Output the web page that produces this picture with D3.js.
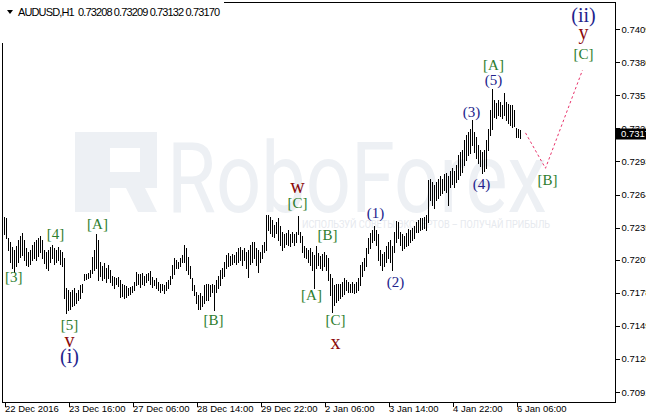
<!DOCTYPE html>
<html><head><meta charset="utf-8">
<script src="https://cdn.jsdelivr.net/npm/d3@7/dist/d3.min.js"></script>
<style>html,body{margin:0;padding:0;background:#fff;overflow:hidden}svg{display:block}</style>
</head><body><svg id="c" width="646" height="414"></svg>
<script>
const highs=[0.7244,0.7243,0.7226,0.7222,0.7218,0.7215,0.7219,0.7224,0.7228,0.7230,
0.7224,0.7217,0.7214,0.7215,0.7220,0.7222,0.7224,0.7226,0.7228,0.7224,
0.7215,0.7214,0.7215,0.7218,0.7220,0.7217,0.7215,0.7218,0.7215,0.7214,
0.7208,0.7182,0.7180,0.7179,0.7180,0.7182,0.7178,0.7180,0.7185,0.7186,
0.7194,0.7194,0.7195,0.7198,0.7209,0.7215,0.7229,0.7224,0.7205,0.7201,
0.7204,0.7200,0.7202,0.7198,0.7193,0.7192,0.7191,0.7192,0.7189,0.7186,
0.7185,0.7184,0.7182,0.7183,0.7184,0.7187,0.7196,0.7194,0.7194,0.7195,
0.7193,0.7194,0.7195,0.7197,0.7192,0.7189,0.7191,0.7187,0.7186,0.7186,
0.7185,0.7187,0.7189,0.7193,0.7202,0.7208,0.7207,0.7205,0.7208,0.7211,
0.7220,0.7217,0.7209,0.7201,0.7191,0.7185,0.7179,0.7176,0.7178,0.7175,
0.7185,0.7186,0.7186,0.7185,0.7186,0.7185,0.7189,0.7193,0.7198,0.7200,
0.7205,0.7211,0.7213,0.7210,0.7212,0.7211,0.7214,0.7217,0.7218,0.7215,
0.7217,0.7214,0.7215,0.7220,0.7222,0.7222,0.7217,0.7215,0.7214,0.7220,
0.7222,0.7246,0.7246,0.7244,0.7242,0.7237,0.7240,0.7243,0.7236,0.7231,
0.7229,0.7230,0.7233,0.7229,0.7231,0.7229,0.7231,0.7245,0.7231,0.7228,
0.7219,0.7217,0.7215,0.7217,0.7214,0.7211,0.7219,0.7213,0.7210,0.7212,
0.7214,0.7211,0.7208,0.7194,0.7191,0.7185,0.7186,0.7186,0.7186,0.7187,
0.7191,0.7189,0.7187,0.7186,0.7187,0.7186,0.7187,0.7191,0.7202,0.7205,
0.7208,0.7217,0.7226,0.7230,0.7233,0.7236,0.7233,0.7229,0.7215,0.7212,
0.7214,0.7219,0.7222,0.7224,0.7219,0.7231,0.7241,0.7240,0.7231,0.7229,
0.7228,0.7230,0.7234,0.7233,0.7235,0.7236,0.7240,0.7242,0.7243,0.7243,
0.7244,0.7246,0.7277,0.7278,0.7275,0.7272,0.7275,0.7278,0.7280,0.7278,
0.7282,0.7283,0.7280,0.7285,0.7287,0.7285,0.7290,0.7299,0.7301,0.7303,
0.7312,0.7316,0.7319,0.7321,0.7329,0.7319,0.7314,0.7307,0.7303,0.7301,
0.7303,0.7312,0.7321,0.7338,0.7356,0.7347,0.7344,0.7347,0.7345,0.7342,
0.7353,0.7345,0.7343,0.7342,0.7342,0.7338,0.7322,0.7321,0.73209];
const lows=[0.7229,0.7226,0.7215,0.7205,0.7200,0.7196,0.7201,0.7205,0.7209,0.7211,
0.7207,0.7202,0.7201,0.7203,0.7207,0.7208,0.7207,0.7210,0.7214,0.7208,
0.7204,0.7200,0.7198,0.7205,0.7208,0.7203,0.7205,0.7207,0.7203,0.7201,
0.7173,0.7160,0.7163,0.7164,0.7166,0.7167,0.7169,0.7172,0.7173,0.7179,
0.7189,0.7190,0.7191,0.7192,0.7195,0.7198,0.7200,0.7189,0.7193,0.7189,
0.7191,0.7187,0.7191,0.7187,0.7185,0.7182,0.7186,0.7184,0.7174,0.7175,
0.7173,0.7174,0.7176,0.7177,0.7179,0.7180,0.7185,0.7186,0.7183,0.7186,
0.7185,0.7187,0.7189,0.7186,0.7183,0.7185,0.7182,0.7180,0.7179,0.7180,
0.7178,0.7180,0.7182,0.7186,0.7191,0.7194,0.7200,0.7200,0.7201,0.7205,
0.7205,0.7198,0.7194,0.7191,0.7180,0.7176,0.7169,0.7164,0.7164,0.7166,
0.7169,0.7172,0.7172,0.7175,0.7179,0.7163,0.7179,0.7182,0.7185,0.7191,
0.7193,0.7200,0.7201,0.7202,0.7203,0.7205,0.7203,0.7205,0.7207,0.7202,
0.7207,0.7200,0.7192,0.7203,0.7205,0.7208,0.7202,0.7196,0.7205,0.7208,
0.7214,0.7215,0.7233,0.7230,0.7228,0.7227,0.7230,0.7224,0.7220,0.7215,
0.7218,0.7221,0.7220,0.7219,0.7222,0.7220,0.7222,0.7229,0.7222,0.7214,
0.7209,0.7208,0.7205,0.7202,0.7198,0.7182,0.7200,0.7202,0.7200,0.7198,
0.7201,0.7198,0.7189,0.7176,0.7161,0.7167,0.7170,0.7172,0.7173,0.7175,
0.7177,0.7180,0.7179,0.7179,0.7179,0.7178,0.7179,0.7180,0.7185,0.7193,
0.7198,0.7201,0.7213,0.7217,0.7222,0.7224,0.7220,0.7207,0.7202,0.7198,
0.7201,0.7205,0.7208,0.7205,0.7198,0.7214,0.7222,0.7226,0.7220,0.7215,
0.7217,0.7219,0.7220,0.7222,0.7224,0.7226,0.7231,0.7231,0.7233,0.7234,
0.7235,0.7233,0.7240,0.7259,0.7255,0.7252,0.7259,0.7261,0.7264,0.7265,
0.7268,0.7266,0.7255,0.7271,0.7273,0.7271,0.7275,0.7278,0.7281,0.7284,
0.7290,0.7294,0.7299,0.7300,0.7307,0.7301,0.7296,0.7292,0.7289,0.7283,
0.7285,0.7287,0.7303,0.7316,0.7321,0.7332,0.7331,0.7334,0.7333,0.7331,
0.7334,0.7329,0.7327,0.7325,0.7323,0.7324,0.7314,0.7314,0.73132];

const xTickBars=[0,32,64,96,128,160,192,224,256];
const xTickLabels=["22 Dec 2016","23 Dec 16:00","27 Dec 06:00","28 Dec 14:00","29 Dec 22:00","2 Jan 06:00","3 Jan 14:00","4 Jan 22:00","6 Jan 06:00"];
const yTickValues=[0.7409,0.7380,0.7351,0.7322,0.7293,0.7264,0.7235,0.7207,0.7178,0.7149,0.7120,0.7091];
const lastPrice=0.73170;
const titleText="AUDUSD,H1  0.73208 0.73209 0.73132 0.73170";

const labelText  =["[3]","[4]","[A]","[5]","v","(i)","[B]","w","[C]","[A]","[B]","[C]","x","(1)","(2)","(3)","(4)","(5)","[A]","[B]","[C]","y","(ii)"];
const labelBar   =[4.65,25.5,46.5,32.5,32.5,32.5,104.5,146.5,146.5,153.5,161.5,165.5,165.5,185.5,195.5,233.5,238.5,244.5,244.5,271.5,289.5,289.5,289.5];
const labelPrice =[0.7187,0.7225,0.7234,0.7145,0.7130,0.7116,0.7150,0.7265,0.7252,0.7172,0.7224,0.7150,0.7129,0.7243,0.7183,0.7332,0.7269,0.7360,0.7373,0.7272,0.7383,0.7400,0.7415];
const labelDegree=["minor","minor","minor","minor","inter","primary","minor","inter","minor","minor","minor","minor","inter","minute","minute","minute","minute","minute","minor","minor","minor","inter","primary"];

const forecastBar  =[260.5,270.5,289];
const forecastPrice=[0.7318,0.7287,0.7373];

const degreeStyle={
  minor:{fill:"#2e7d2e",size:15},
  minute:{fill:"#22228c",size:15},
  inter:{fill:"#8b0a0a",size:20},
  primary:{fill:"#22228c",size:20}
};

const svg=d3.select("#c");
const W=646,H=414;
const L=2.5,R=615.5,T=2.5,B=402.5;

const x=d3.scaleLinear().domain([0,1]).range([4.5,6.5]);
const y=d3.scaleLinear().domain([0.7091,0.7409]).range([392,29]);

svg.append("rect").attr("width",W).attr("height",H).attr("fill","#fff");

// watermark
const wm=svg.append("g").attr("fill","#edf0f4");
wm.append("path").attr("d","M75,132H157V188H145L157,212H138L126,188H110V212H75Z M110,148V172H140V148Z").attr("fill-rule","evenodd");
wm.append("text").attr("x",167).attr("y",212).attr("font-family","Roboto, 'Open Sans', sans-serif")
  .attr("font-size",98).attr("textLength",380).attr("lengthAdjust","spacingAndGlyphs").text("RoboForex");
wm.append("text").attr("x",302).attr("y",228).attr("font-family","Roboto, 'Open Sans', sans-serif")
  .attr("font-size",11).attr("textLength",248).attr("lengthAdjust","spacingAndGlyphs").attr("fill","#e6e9ee")
  .text("ИСПОЛЬЗУЙ СОВЕТЫ ЭКСПЕРТОВ – ПОЛУЧАЙ ПРИБЫЛЬ");

// bars
svg.append("g").attr("stroke","#000").attr("stroke-width",1).attr("shape-rendering","crispEdges")
  .selectAll("line").data(highs).join("line")
  .attr("x1",(d,i)=>x(i)).attr("x2",(d,i)=>x(i))
  .attr("y1",d=>Math.round(y(d))).attr("y2",(d,i)=>Math.round(y(lows[i]))+1);

// forecast dashed path
const fc=forecastBar.map((b,i)=>[x(b),y(forecastPrice[i])]);
svg.append("path").attr("d",d3.line()(fc)).attr("fill","none").attr("stroke","#e8336b")
  .attr("stroke-width",1).attr("stroke-dasharray","2.5,2.5");

// wave labels
svg.append("g").attr("font-family","'Liberation Serif','DejaVu Serif',serif").attr("text-anchor","middle")
  .selectAll("text").data(labelText).join("text")
  .attr("x",(d,i)=>x(labelBar[i])).attr("y",(d,i)=>y(labelPrice[i]))
  .attr("fill",(d,i)=>degreeStyle[labelDegree[i]].fill)
  .attr("font-size",(d,i)=>degreeStyle[labelDegree[i]].size)
  .text(d=>d);

// frame
svg.append("rect").attr("x",L).attr("y",T).attr("width",R-L).attr("height",B-T)
  .attr("fill","none").attr("stroke","#000").attr("shape-rendering","crispEdges");

const axFont="'Liberation Sans', Arial, sans-serif";
// x axis
const gx=svg.append("g").attr("transform",`translate(0,${B})`)
  .call(d3.axisBottom(x).tickValues(xTickBars).tickFormat((d,i)=>xTickLabels[i]).tickSizeInner(4).tickSizeOuter(0));
gx.select(".domain").remove();
gx.selectAll("line").attr("stroke","#000").attr("shape-rendering","crispEdges");
gx.selectAll("text").attr("text-anchor","start").attr("x",0).attr("y",9.5).attr("dy",null)
  .attr("font-family",axFont).attr("font-size",9.5).attr("fill","#000");

// y axis
const gy=svg.append("g").attr("transform",`translate(${R},0)`)
  .call(d3.axisRight(y).tickValues(yTickValues).tickFormat(d3.format(".4f")).tickSizeInner(4).tickSizeOuter(0));
gy.select(".domain").remove();
gy.selectAll("line").attr("stroke","#000").attr("shape-rendering","crispEdges");
gy.selectAll("text").attr("x",6).attr("font-family",axFont).attr("font-size",9.5).attr("fill","#000");

// last price marker
const yp=y(lastPrice);
svg.append("rect").attr("x",616).attr("y",Math.round(yp)-5.5).attr("width",30).attr("height",11).attr("fill","#000");
svg.append("text").attr("x",621).attr("y",yp).attr("dy","0.34em").attr("font-family",axFont).attr("font-size",9.5)
  .attr("fill","#fff").text(d3.format(".4f")(lastPrice));

// title
svg.append("rect").attr("x",0).attr("y",0).attr("width",224).attr("height",43).attr("fill","#fff");
svg.append("path").attr("d","M7,10H13L10,14Z").attr("fill","#000");
svg.append("text").attr("x",18).attr("y",16).attr("font-family",axFont).attr("font-size",11)
  .attr("textLength",202).attr("lengthAdjust","spacing")
  .attr("fill","#000").style("white-space","pre").text(titleText);
</script></body></html>
